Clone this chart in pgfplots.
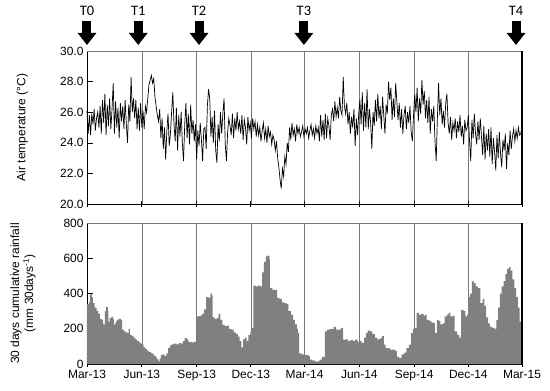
\documentclass[border=0pt]{standalone}
\usepackage{fontspec}
\setmainfont{Liberation Sans}
\newfontfamily\calfont{Carlito}
\usepackage{pgfplots}
\pgfplotsset{compat=1.18}
\usetikzlibrary{arrows.meta}
\definecolor{raingray}{RGB}{128,128,128}
\definecolor{gridgray}{RGB}{120,120,120}
\tikzset{
  tarrow/.style={black, line width=9bp, -{Triangle[width=18bp,length=12bp]}},
  tlabel/.style={anchor=south, inner sep=0pt, font=\calfont\fontsize{14.5}{16}\selectfont},
}
\pgfplotsset{
  common/.style={
    scale only axis, width=435bp,
    xmin=0, xmax=730,
    xtick={0,92,184,275,365,457,549,640,730},
    xmajorgrids, major grid style={gridgray, line width=0.6pt},
    axis x line*=bottom, axis y line*=left,
    x axis line style={black, line width=0.8pt, -},
    y axis line style={black, line width=0.8pt, -},
    xtick style={black, line width=0.8pt},
    ytick style={black, line width=0.6pt},
    tick label style={font=\fontsize{12}{14}\selectfont},
    label style={font=\fontsize{12}{14}\selectfont},
    /pgf/number format/assume math mode=true,
    clip=false,
  },
}
\begin{document}
\begin{tikzpicture}
\path[use as bounding box] (-87bp,-187bp) rectangle (463bp,204bp);
\begin{axis}[common, at={(0,0)}, anchor=south west, height=153bp,
  ymin=20, ymax=30, ytick={20,22,...,30},
  yticklabel style={/pgf/number format/.cd, fixed, fixed zerofill, precision=1},
  xticklabels={},
  xtick align=center, major tick length=6bp,
  ylabel={Air temperature (°C)},
  ylabel style={at={(axis description cs:-0.149,0.5)}, anchor=center},
]
\draw[gridgray, line width=0.8pt] (axis cs:0,30) -- (axis cs:730,30);
\draw[black, line width=1.2pt] (axis cs:730,20) -- (axis cs:730,30);
\addplot[black, line width=0.7pt, mark=none] coordinates {
(0,26.1)(2,24.6)(4,25.8)(6,24.5)(8,25.9)(10,25.2)(12,26.2)(14,24.8)(16,25.6)(18,26.0)
(20,25.0)(22,26.4)(24,24.6)(26,26.8)(28,25.3)(30,27.2)(32,24.5)(34,26.5)(36,25.1)(38,26.9)
(40,24.9)(42,26.2)(44,27.9)(46,24.6)(48,26.7)(50,25.0)(52,26.3)(54,24.3)(56,26.6)(58,25.4)
(60,26.4)(62,24.9)(64,26.8)(66,25.2)(68,24.0)(70,26.5)(72,25.4)(74,28.3)(76,26.0)(78,26.9)
(80,25.6)(82,26.8)(84,24.9)(86,26.3)(88,24.8)(90,26.6)(92,25.0)(94,26.1)(96,24.9)(98,26.4)
(100,26.0)(102,26.9)(104,27.8)(106,28.1)(108,28.4)(110,27.9)(112,28.2)(114,27.0)(116,26.4)(118,25.8)
(120,25.4)(122,26.2)(124,24.3)(126,25.6)(128,23.6)(130,25.0)(132,22.9)(134,24.8)(136,25.9)(138,23.8)
(140,24.6)(142,26.0)(144,27.3)(146,25.2)(148,24.1)(150,26.3)(152,23.5)(154,25.8)(156,24.4)(158,26.0)
(160,24.0)(162,22.8)(164,25.2)(166,26.6)(168,24.3)(170,25.9)(172,23.9)(174,26.5)(176,24.6)(178,25.5)
(180,24.1)(182,25.2)(184,22.9)(186,24.8)(188,23.8)(190,25.3)(192,24.2)(194,22.8)(196,24.9)(198,25.0)
(200,23.6)(202,26.4)(204,27.5)(206,26.9)(208,24.4)(210,25.7)(212,24.0)(214,26.1)(216,23.5)(218,22.7)
(220,25.2)(222,24.1)(224,26.0)(226,24.6)(228,25.9)(230,26.9)(232,23.9)(234,22.8)(236,24.7)(238,25.6)
(240,25.1)(242,24.5)(244,25.9)(246,24.3)(248,25.6)(250,24.8)(252,26.0)(254,24.9)(256,25.4)(258,24.6)
(260,25.8)(262,24.2)(264,25.5)(266,25.0)(268,23.9)(270,25.7)(272,24.8)(274,25.3)(276,24.3)(278,25.6)
(280,24.9)(282,25.4)(284,24.4)(286,25.2)(288,24.5)(290,25.0)(292,24.1)(294,24.8)(296,25.3)(298,24.3)
(300,24.9)(302,24.0)(304,25.1)(306,24.4)(308,24.7)(310,23.9)(312,24.5)(314,24.2)(316,23.5)(318,24.1)
(320,23.0)(322,22.4)(324,21.6)(326,21.0)(328,22.3)(330,21.8)(332,23.1)(334,22.6)(336,24.0)(338,23.4)
(340,25.0)(342,24.2)(344,25.3)(346,24.5)(348,24.9)(350,24.1)(352,25.2)(354,24.6)(356,25.0)(358,24.4)
(360,24.7)(362,25.1)(364,24.4)(366,24.9)(368,24.6)(370,25.0)(372,24.3)(374,24.8)(376,25.2)(378,24.5)
(380,24.9)(382,24.3)(384,25.1)(386,24.6)(388,25.0)(390,24.1)(392,25.8)(394,24.4)(396,25.5)(398,24.2)
(400,25.9)(402,24.3)(404,25.6)(406,25.1)(408,24.2)(410,25.8)(412,26.2)(414,25.4)(416,26.7)(418,25.7)
(420,26.3)(422,25.6)(424,27.0)(426,26.1)(428,25.8)(430,28.3)(432,26.4)(434,25.9)(436,26.6)(438,25.2)
(440,26.0)(442,24.6)(444,25.7)(446,25.0)(448,26.2)(450,23.8)(452,25.6)(454,24.5)(456,25.9)(458,26.8)
(460,25.2)(462,27.3)(464,24.8)(466,26.6)(468,25.0)(470,27.5)(472,24.9)(474,26.2)(476,25.3)(478,23.6)
(480,26.0)(482,25.1)(484,26.8)(486,25.4)(488,27.2)(490,25.6)(492,26.4)(494,24.9)(496,27.0)(498,25.8)
(500,24.6)(502,26.5)(504,25.9)(506,28.0)(508,26.8)(510,27.6)(512,25.5)(514,26.9)(516,25.7)(518,27.9)
(520,26.7)(522,25.5)(524,26.6)(526,25.0)(528,26.2)(530,24.6)(532,25.8)(534,26.4)(536,24.9)(538,26.0)
(540,25.3)(542,26.4)(544,24.7)(546,24.1)(548,25.8)(550,27.2)(552,26.0)(554,27.6)(556,25.4)(558,26.9)
(560,25.9)(562,28.1)(564,26.5)(566,27.4)(568,25.6)(570,26.8)(572,25.3)(574,27.0)(576,24.6)(578,26.2)
(580,25.4)(582,26.4)(584,24.1)(586,22.8)(588,25.6)(590,27.9)(592,25.8)(594,26.9)(596,25.2)(598,26.1)
(600,25.0)(602,26.6)(604,27.2)(606,25.3)(608,24.6)(610,25.7)(612,24.2)(614,25.3)(616,24.8)(618,25.6)
(620,24.3)(622,25.4)(624,24.7)(626,25.8)(628,24.4)(630,25.1)(632,23.9)(634,25.5)(636,24.8)(638,25.0)
(640,25.8)(642,24.1)(644,22.8)(646,25.5)(648,24.3)(650,25.9)(652,24.6)(654,23.9)(656,25.4)(658,24.2)
(660,25.6)(662,24.4)(664,23.2)(666,25.1)(668,22.9)(670,24.6)(672,23.5)(674,24.9)(676,23.1)(678,25.0)
(680,22.6)(682,24.3)(684,23.4)(686,22.2)(688,24.5)(690,23.0)(692,24.7)(694,23.3)(696,22.4)(698,24.2)
(700,23.5)(702,24.6)(704,22.3)(706,24.0)(708,23.2)(710,24.8)(712,23.6)(714,24.4)(716,24.9)(718,24.1)
(720,24.8)(722,24.3)(724,25.0)(726,24.5)(728,24.6)(730,25.1)
};
\draw[tarrow] ([yshift=30bp]axis cs:0,30) -- ([yshift=6bp]axis cs:0,30);
\draw[tarrow] ([yshift=30bp]axis cs:86,30) -- ([yshift=6bp]axis cs:86,30);
\draw[tarrow] ([yshift=30bp]axis cs:188,30) -- ([yshift=6bp]axis cs:188,30);
\draw[tarrow] ([yshift=30bp]axis cs:364,30) -- ([yshift=6bp]axis cs:364,30);
\draw[tarrow] ([yshift=30bp]axis cs:720,30) -- ([yshift=6bp]axis cs:720,30);
\node[tlabel] at ([yshift=35bp]axis cs:0,30) {T0};
\node[tlabel] at ([yshift=35bp]axis cs:86,30) {T1};
\node[tlabel] at ([yshift=35bp]axis cs:188,30) {T2};
\node[tlabel] at ([yshift=35bp]axis cs:364,30) {T3};
\node[tlabel] at ([yshift=35bp]axis cs:720,30) {T4};
\end{axis}
\begin{axis}[common, at={(0,-19bp)}, anchor=north west, height=141bp,
  ymin=0, ymax=800, ytick={0,200,...,800},
  xticklabels={Mar-13,Jun-13,Sep-13,Dec-13,Mar-14,Jun-14,Sep-14,Dec-14,Mar-15},
  xtick align=center, major tick length=6bp,
  ylabel={30 days cumulative rainfall\\(mm 30days\textsuperscript{-1})},
  ylabel style={at={(axis description cs:-0.147,0.5)}, anchor=center, align=center},
]
\addplot[const plot, fill=raingray, draw=none] coordinates {
(0,340)(3,350)(5,395)(8,380)(10,345)(13,320)(16,300)(19,285)(22,255)(25,250)(27,225)(30,300)(32,322)(35,300)(36,240)(38,260)(41,268)(44,255)(45,225)(48,240)(50,252)(54,258)(57,250)(59,195)(62,185)(65,180)(68,175)(70,200)(72,165)(75,160)(78,150)(81,140)(84,130)(87,122)(90,115)(92,108)(95,95)(98,85)(101,75)(104,68)(107,62)(110,55)(113,45)(116,35)(118,25)(120,15)(122,30)(124,50)(127,55)(130,45)(133,60)(136,90)(139,105)(142,112)(146,115)(150,112)(154,118)(158,115)(161,130)(164,148)(167,140)(170,125)(175,122)(180,125)
(185,270)(189,275)(193,285)(196,310)(200,380)(204,375)(207,400)(210,385)(211,265)(214,255)(218,262)(221,285)(224,250)(227,222)(231,215)(235,218)(238,200)(242,195)(246,180)(250,170)(253,155)(256,130)(259,95)(262,140)(265,150)(268,130)(271,165)(274,185)(277,205)
(279,445)(283,440)(287,445)(291,440)(294,520)(297,580)(300,610)(303,615)(306,595)(307,430)(311,420)(315,420)(319,375)(323,370)(327,350)(331,345)(335,340)(338,300)(342,280)(346,250)(349,225)(352,200)(354,175)(356,60)(360,55)(364,50)(368,52)(372,45)(374,25)(378,20)(382,15)(386,15)(390,25)(394,40)
(399,185)(403,195)(407,200)(411,198)(414,210)(418,195)(422,195)(426,205)(430,138)(434,140)(438,130)(442,135)(446,130)(450,138)(454,125)(457,130)(461,120)(465,150)(468,175)(471,190)(475,185)(479,170)(483,150)(487,140)(491,145)(495,160)(498,110)(501,90)(505,88)(509,80)(513,82)(517,75)(520,40)(524,35)(528,55)(532,65)(536,90)(540,110)(544,175)(547,200)
(550,205)(553,290)(557,280)(561,285)(565,275)(568,280)(570,250)(574,245)(578,235)(582,230)(584,175)(587,250)(590,245)(593,225)(597,230)(600,270)(604,280)(607,290)(610,270)(614,275)(617,185)(621,165)(625,150)(628,305)(632,300)(635,270)(638,280)(640,380)(643,400)(646,470)(649,460)(652,440)(656,430)(660,345)(664,370)(667,330)(670,265)(673,230)(676,210)(680,205)(684,200)(687,250)(690,320)(693,400)(696,440)(699,470)(702,510)(705,540)(708,550)(711,530)(714,480)(717,430)(720,380)(723,320)(726,240)(728,150)(730,150)
} \closedcycle;
\draw[gridgray, line width=0.8pt] (axis cs:0,800) -- (axis cs:730,800);
\draw[black, line width=1.2pt] (axis cs:730,0) -- (axis cs:730,800);
\end{axis}
\end{tikzpicture}
\end{document}
